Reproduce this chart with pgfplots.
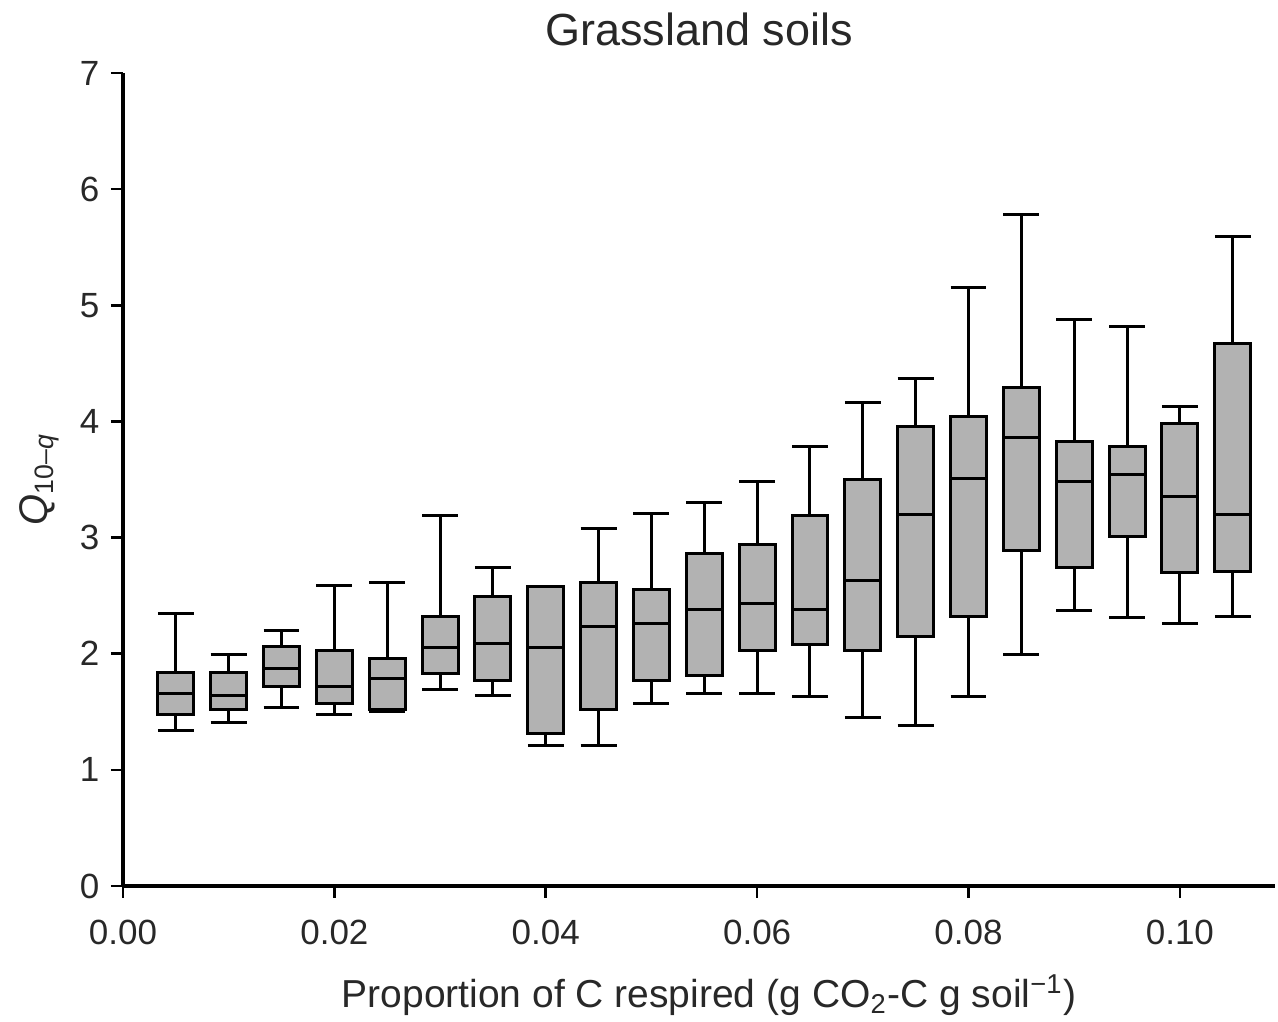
\documentclass[border=0pt]{standalone}
\usepackage{fontspec}
\setmainfont{Liberation Sans}
\usepackage{pgfplots}
\pgfplotsset{compat=1.18}
\usepgfplotslibrary{statistics}
\definecolor{boxgray}{RGB}{178,178,178}
\definecolor{txt}{RGB}{40,40,40}
% x positions in thousandths of g CO2-C g soil^-1
\newcommand{\bp}[6]{%
\addplot[draw=black, line width=0.9pt, fill=boxgray, solid,
  boxplot/draw direction=y,
  boxplot prepared={draw position=#1, lower whisker=#2, lower quartile=#3,
    median=#4, upper quartile=#5, upper whisker=#6,
    box extend=3.4, whisker extend=3.4}] coordinates {};}
\begin{document}
\begin{tikzpicture}
\begin{axis}[
  scale only axis,
  width=345.6pt, height=243.9pt,
  xmin=0, xmax=109, ymin=0, ymax=7,
  axis lines*=left,
  axis line style={line width=1pt, black},
  tick align=outside,
  major tick length=3.6pt,
  tick style={line width=0.8pt, black},
  xtick={0,20,40,60,80,100},
  xticklabels={0.00,0.02,0.04,0.06,0.08,0.10},
  ytick={0,1,2,3,4,5,6,7},
  /pgf/number format/assume math mode=true,
  ticklabel style={font=\fontsize{10.5}{12}\selectfont, text=txt},
  xticklabel style={yshift=-3pt},
  every axis title shift=0pt,
  title={Grassland soils},
  title style={at={(rel axis cs:0.5,1)}, anchor=center, yshift=13pt,
    font=\fontsize{13.5}{15}\selectfont, text=txt},
  xlabel={Proportion of C respired (g CO\textsubscript{2}-C g soil\textsuperscript{−1})},
  xlabel style={at={(rel axis cs:0.5,0)}, anchor=center, yshift=-32.7pt, xshift=3pt,
    font=\fontsize{11.7}{14}\selectfont, text=txt},
  ylabel={\textit{Q}\textsubscript{10–\textit{q}}},
  ylabel style={at={(rel axis cs:0,0.5)}, anchor=center, yshift=25pt,
    font=\fontsize{12}{14}\selectfont, text=txt},
  clip=false,
]
\bp{5}{1.34}{1.48}{1.66}{1.84}{2.35}
\bp{10}{1.41}{1.52}{1.64}{1.84}{1.99}
\bp{15}{1.54}{1.72}{1.87}{2.06}{2.20}
\bp{20}{1.48}{1.57}{1.72}{2.03}{2.59}
\bp{25}{1.50}{1.52}{1.79}{1.96}{2.61}
\bp{30}{1.69}{1.83}{2.05}{2.32}{3.19}
\bp{35}{1.64}{1.77}{2.09}{2.49}{2.74}
\bp{40}{1.21}{1.31}{2.05}{2.58}{2.58}
\bp{45}{1.21}{1.52}{2.23}{2.61}{3.08}
\bp{50}{1.57}{1.77}{2.26}{2.55}{3.21}
\bp{55}{1.66}{1.81}{2.38}{2.86}{3.30}
\bp{60}{1.66}{2.03}{2.43}{2.94}{3.48}
\bp{65}{1.63}{2.08}{2.38}{3.19}{3.78}
\bp{70}{1.45}{2.03}{2.63}{3.50}{4.16}
\bp{75}{1.38}{2.15}{3.20}{3.96}{4.37}
\bp{80}{1.63}{2.32}{3.51}{4.04}{5.15}
\bp{85}{1.99}{2.89}{3.86}{4.29}{5.78}
\bp{90}{2.37}{2.74}{3.48}{3.83}{4.88}
\bp{95}{2.31}{3.01}{3.54}{3.78}{4.82}
\bp{100}{2.26}{2.70}{3.35}{3.98}{4.13}
\bp{105}{2.32}{2.71}{3.20}{4.67}{5.59}
\coordinate (bl) at (rel axis cs:0,0);
\coordinate (tr) at (rel axis cs:1,1);
\end{axis}
\pgfresetboundingbox
\path[use as bounding box] ([xshift=-36.9pt, yshift=-40.8pt]bl) rectangle ([xshift=0.9pt, yshift=21.9pt]tr);
\end{tikzpicture}
\end{document}
